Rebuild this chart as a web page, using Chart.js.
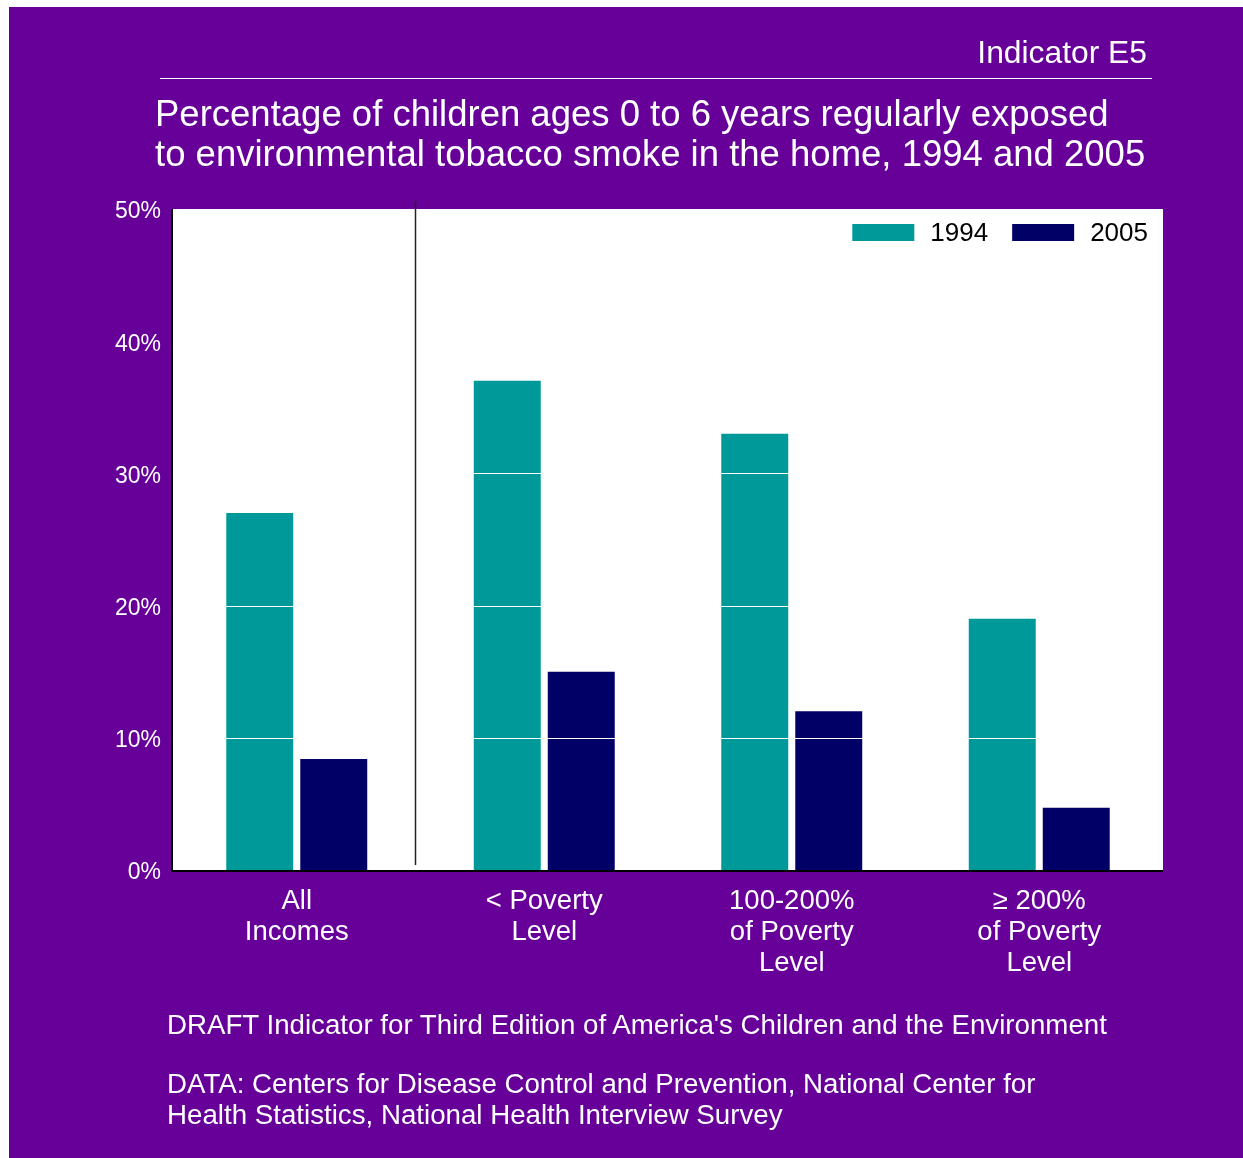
<!DOCTYPE html>
<html>
<head>
<meta charset="utf-8">
<script src="https://cdn.jsdelivr.net/npm/chart.js@4/dist/chart.umd.min.js"></script>
<style>
  html, body { margin: 0; padding: 0; background: #ffffff; }
  body { width: 1243px; height: 1158px; position: relative; overflow: hidden; font-family: "Liberation Sans", Arial, sans-serif; }
  #panel { position: absolute; left: 9px; top: 7px; width: 1234px; height: 1151px; background: #660099; }
  #chart-wrap { position: absolute; left: 0; top: 0; width: 1234px; height: 1151px; }
  .txt { position: absolute; color: #ffffff; white-space: nowrap; }
  #indicator { right: 96px; top: 27px; font-size: 31.8px; line-height: 36px; }
  #rule { position: absolute; left: 151px; top: 71px; width: 992px; height: 1px; background: #ffffff; }
  #title { left: 146px; top: 87px; font-size: 36.5px; line-height: 40px; }
  #note { left: 158px; top: 1002px; font-size: 27.7px; line-height: 31px; }
  #source { left: 158px; top: 1061px; font-size: 27.7px; line-height: 31px; }
</style>
</head>
<body>
<div id="panel">
  <div id="chart-wrap"><canvas id="chart"></canvas></div>
  <div class="txt" id="indicator">Indicator E5</div>
  <div id="rule"></div>
  <div class="txt" id="title">Percentage of children ages 0 to 6 years regularly exposed<br>to environmental tobacco smoke in the home, 1994 and 2005</div>
  <div class="txt" id="note">DRAFT Indicator for Third Edition of America's Children and the Environment</div>
  <div class="txt" id="source">DATA: Centers for Disease Control and Prevention, National Center for<br>Health Statistics, National Health Interview Survey</div>
</div>
<script>
const categories = [
  ["All", "Incomes"],
  ["< Poverty", "Level"],
  ["100-200%", "of Poverty", "Level"],
  ["\u2265 200%", "of Poverty", "Level"],
];
const seriesNames = ["1994", "2005"];
const values1994 = [27.0, 37.0, 33.0, 19.0];
const values2005 = [8.4, 15.0, 12.0, 4.7];
const yTicks = [0, 10, 20, 30, 40, 50];

const TEAL = "#009999";
const NAVY = "#000066";
const FONT = "'Liberation Sans', Arial, sans-serif";

// white plot background, white gridlines painted over the bars, divider, axes, legend
const plotDecor = {
  id: "plotDecor",
  beforeDraw(chart) {
    const { ctx, chartArea } = chart;
    ctx.save();
    ctx.fillStyle = "#ffffff";
    ctx.fillRect(chartArea.left, chartArea.top, chartArea.right - chartArea.left, chartArea.bottom - chartArea.top);
    ctx.restore();
  },
  afterDatasetsDraw(chart) {
    const { ctx, chartArea, scales } = chart;
    const y = scales.y;
    const x = scales.x;
    ctx.save();
    ctx.strokeStyle = "#ffffff";
    ctx.lineWidth = 1;
    yTicks.slice(1, -1).forEach((v) => {
      const py = Math.round(y.getPixelForValue(v)) + 0.5;
      ctx.beginPath();
      ctx.moveTo(chartArea.left, py);
      ctx.lineTo(chartArea.right, py);
      ctx.stroke();
    });
    // divider between "All Incomes" and the poverty groups
    const dx = Math.round((x.getPixelForTick(0) + x.getPixelForTick(1)) / 2) - 5.5;
    ctx.strokeStyle = "#222222";
    ctx.lineWidth = 1.5;
    ctx.beginPath();
    ctx.moveTo(dx, chartArea.top - 8);
    ctx.lineTo(dx, chartArea.bottom - 5);
    ctx.stroke();
    // axes
    ctx.strokeStyle = "#000000";
    ctx.lineWidth = 2;
    ctx.beginPath();
    ctx.moveTo(chartArea.left - 1, chartArea.top);
    ctx.lineTo(chartArea.left - 1, chartArea.bottom + 1);
    ctx.lineTo(chartArea.right, chartArea.bottom + 1);
    ctx.stroke();
    // legend, top right inside the plot
    ctx.font = "26px " + FONT;
    ctx.textBaseline = "middle";
    ctx.textAlign = "left";
    let lx = chartArea.right - 15;
    const boxTop = chartArea.top + 15;
    chart.data.datasets.slice().reverse().forEach((ds) => {
      const tw = ctx.measureText(ds.label).width;
      const tx = lx - tw;
      ctx.fillStyle = "#000000";
      ctx.fillText(ds.label, tx, chartArea.top + 25);
      const bx = tx - 16 - 62;
      ctx.fillStyle = ds.backgroundColor;
      ctx.fillRect(bx, boxTop, 62, 17);
      lx = bx - 24;
    });
    ctx.restore();
  },
};

new Chart(document.getElementById("chart"), {
  type: "bar",
  data: {
    labels: categories,
    datasets: [
      { label: seriesNames[0], data: values1994, backgroundColor: TEAL, borderWidth: 0 },
      { label: seriesNames[1], data: values2005, backgroundColor: NAVY, borderWidth: 0 },
    ],
  },
  plugins: [plotDecor],
  options: {
    responsive: true,
    maintainAspectRatio: false,
    animation: false,
    categoryPercentage: 0.598,
    barPercentage: 0.905,
    layout: { padding: { left: 94, right: 80, top: 202, bottom: 168 } },
    scales: {
      x: {
        grid: { display: false, drawTicks: false },
        border: { display: false },
        ticks: {
          color: "#ffffff",
          padding: 16,
          maxRotation: 0,
          autoSkip: false,
          font: { family: FONT, size: 27.5, lineHeight: 1.13 },
        },
        afterFit(scale) { scale.height = 120; },
      },
      y: {
        min: 0,
        max: 50,
        grid: { display: false, drawTicks: false },
        border: { display: false },
        ticks: {
          stepSize: 10,
          color: "#ffffff",
          padding: 12,
          labelOffset: 3,
          font: { family: FONT, size: 23 },
          callback: (v) => v + "%",
        },
        afterFit(scale) { scale.width = 70; },
      },
    },
    plugins: {
      legend: { display: false },
      tooltip: { enabled: false },
    },
  },
});
</script>
</body>
</html>
